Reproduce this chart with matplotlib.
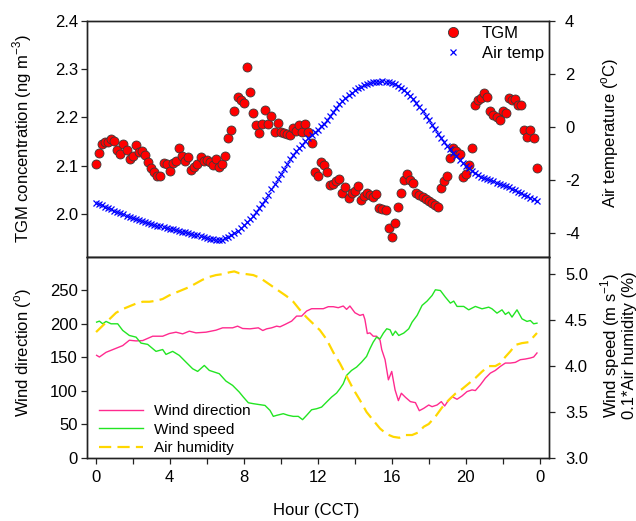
import numpy as np
import matplotlib
matplotlib.use("Agg")
import matplotlib.pyplot as plt
from matplotlib.lines import Line2D

plt.rcParams['font.family'] = ['Liberation Sans', 'DejaVu Sans']
plt.rcParams['mathtext.fontset'] = 'custom'
plt.rcParams['mathtext.rm'] = 'Liberation Sans'
plt.rcParams['axes.unicode_minus'] = False

# ---------------- data ----------------
# 10-minute steps over the day (hours)
hours = np.arange(144) / 6.0

tgm = [2.103, 2.127, 2.145, 2.149, 2.150, 2.155, 2.151, 2.132, 2.125, 2.145,
       2.132, 2.114, 2.120, 2.142, 2.128, 2.130, 2.122, 2.107, 2.096, 2.087,
       2.079, 2.078, 2.106, 2.104, 2.090, 2.105, 2.110, 2.137, 2.121, 2.109,
       2.119, 2.092, 2.098, 2.103, 2.119, 2.110, 2.112, 2.107, 2.101, 2.113,
       2.098, 2.103, 2.120, 2.158, 2.175, 2.214, 2.242, 2.235, 2.229, 2.305,
       2.253, 2.210, 2.184, 2.167, 2.186, 2.215, 2.186, 2.203, 2.170, 2.188,
       2.170, 2.167, 2.165, 2.163, 2.178, 2.172, 2.184, 2.169, 2.186, 2.170,
       2.148, 2.088, 2.079, 2.108, 2.101, 2.088, 2.060, 2.063, 2.069, 2.072,
       2.044, 2.056, 2.034, 2.043, 2.047, 2.058, 2.029, 2.037, 2.043, 2.039,
       2.036, 2.041, 2.012, 2.010, 2.008, 1.972, 1.953, 1.982, 2.014, 2.043,
       2.070, 2.082, 2.070, 2.065, 2.044, 2.039, 2.036, 2.032, 2.027, 2.023,
       2.019, 2.015, 2.055, 2.069, 2.078, 2.116, 2.136, 2.131, 2.125, 2.076,
       2.084, 2.101, 2.136, 2.226, 2.236, 2.240, 2.250, 2.242, 2.214, 2.204,
       2.200, 2.195, 2.213, 2.209, 2.240, 2.236, 2.239, 2.226, 2.225, 2.174,
       2.159, 2.173, 2.157, 2.095]

air_temp = [-2.85, -2.90, -2.95, -3.00, -3.05, -3.10,
            -3.15, -3.19, -3.24, -3.29, -3.33, -3.38,
            -3.42, -3.46, -3.50, -3.54, -3.58, -3.62,
            -3.65, -3.68, -3.71, -3.74, -3.77, -3.80,
            -3.82, -3.85, -3.88, -3.91, -3.94, -3.96,
            -3.99, -4.02, -4.05, -4.08, -4.11, -4.14,
            -4.17, -4.20, -4.23, -4.26, -4.26, -4.24,
            -4.19, -4.14, -4.08, -4.00, -3.90, -3.79,
            -3.67, -3.56, -3.45, -3.33, -3.19, -3.05,
            -2.90, -2.73, -2.54, -2.35, -2.15, -1.95,
            -1.75, -1.57, -1.39, -1.22, -1.06, -0.92,
            -0.78, -0.66, -0.54, -0.42, -0.31, -0.20,
            -0.10, 0.02, 0.13, 0.25, 0.41, 0.56,
            0.72, 0.85, 0.98, 1.10, 1.20, 1.29,
            1.38, 1.45, 1.51, 1.57, 1.61, 1.65,
            1.68, 1.70, 1.71, 1.72, 1.71, 1.69,
            1.66, 1.60, 1.54, 1.47, 1.38, 1.28,
            1.17, 1.04, 0.90, 0.75, 0.59, 0.43,
            0.27, 0.09, -0.08, -0.25, -0.40, -0.55,
            -0.70, -0.84, -0.97, -1.10, -1.23, -1.35,
            -1.46, -1.56, -1.65, -1.74, -1.81, -1.87,
            -1.93, -1.97, -2.01, -2.05, -2.09, -2.14,
            -2.18, -2.23, -2.27, -2.32, -2.38, -2.43,
            -2.49, -2.55, -2.60, -2.66, -2.72, -2.78]

wd_hours = [0.05, 0.20, 0.56, 1.01, 1.46, 1.82, 2.18, 2.54, 3.08, 3.62,
            3.98, 4.34, 4.70, 5.06, 5.42, 5.96, 6.50, 6.86, 7.40, 7.67,
            7.94, 8.34, 8.79, 9.03, 9.24, 9.51, 9.78, 9.96, 10.23, 10.59,
            10.86, 11.13, 11.40, 11.67, 11.94, 12.30, 12.57, 12.84, 13.11, 13.38,
            13.56, 13.74, 14.01, 14.28, 14.46, 14.55, 14.68, 14.82, 15.00, 15.18,
            15.37, 15.46, 15.64, 15.82, 16.00, 16.18, 16.36, 16.52, 16.74, 17.01,
            17.28, 17.49, 17.73, 18.00, 18.18, 18.45, 18.68, 18.86, 19.08, 19.26,
            19.53, 19.80, 20.07, 20.34, 20.52, 20.79, 21.06, 21.33, 21.60, 21.87,
            22.14, 22.41, 22.68, 22.95, 23.22, 23.49, 23.67, 23.85]
wind_dir = [153, 150.5, 157.5, 162.5, 167.5, 175.5, 174.5, 175, 181.5, 181.5,
            185.5, 187.5, 185, 189, 186.5, 187.5, 190.5, 194, 194, 196.5,
            193, 192.5, 194, 190, 192.5, 194, 196.5, 195.5, 199, 204,
            211.5, 211.5, 219, 222.5, 222.5, 222.5, 225.5, 225.5, 224, 226.5,
            221.5, 226.5, 216.5, 212.5, 214, 206.5, 185.5, 186.5, 181.5, 181.5,
            175.5, 161.5, 146.5, 116.5, 129, 101.5, 85.5, 96.5, 90.5, 84,
            82.5, 70.5, 74, 79, 76.5, 79, 84, 77.5, 86.5, 91.5,
            87.5, 92.5, 99, 101.5, 100.5, 109, 119, 126.5, 130.5, 136.5,
            141.5, 141.5, 142.5, 146.5, 147.5, 149, 150.5, 156.5]

ws_hours = [0.05, 0.20, 0.38, 0.56, 0.83, 1.19, 1.46, 1.82, 2.18, 2.45,
            2.81, 3.26, 3.62, 3.80, 4.16, 4.52, 4.88, 5.24, 5.51, 5.87,
            6.14, 6.68, 7.04, 7.40, 7.76, 7.98, 8.25, 8.52, 8.88, 9.15,
            9.42, 9.60, 9.78, 10.14, 10.41, 10.68, 10.95, 11.18, 11.40, 11.67,
            11.94, 12.21, 12.48, 12.75, 13.02, 13.20, 13.38, 13.56, 13.83, 14.10,
            14.37, 14.64, 14.82, 15.00, 15.18, 15.37, 15.55, 15.73, 15.91, 16.05,
            16.20, 16.38, 16.65, 16.92, 17.10, 17.37, 17.64, 17.91, 18.18, 18.36,
            18.63, 18.90, 19.17, 19.35, 19.53, 19.89, 20.16, 20.52, 20.88, 21.24,
            21.42, 21.69, 21.96, 22.14, 22.32, 22.50, 22.77, 23.04, 23.31, 23.49,
            23.67, 23.85]
wind_speed = [4.478, 4.489, 4.46, 4.486, 4.46, 4.46, 4.388, 4.333, 4.315, 4.25,
              4.236, 4.16, 4.18, 4.127, 4.16, 4.116, 4.043, 3.971, 3.942, 4.007,
              3.953, 3.917, 3.837, 3.79, 3.717, 3.663, 3.601, 3.591, 3.58, 3.572,
              3.518, 3.453, 3.464, 3.482, 3.464, 3.453, 3.453, 3.417, 3.464, 3.525,
              3.536, 3.554, 3.609, 3.663, 3.707, 3.754, 3.808, 3.899, 3.953, 3.989,
              4.043, 4.105, 4.188, 4.261, 4.315, 4.297, 4.359, 4.406, 4.395, 4.333,
              4.38, 4.333, 4.359, 4.406, 4.478, 4.551, 4.66, 4.707, 4.768, 4.83,
              4.822, 4.75, 4.685, 4.707, 4.649, 4.649, 4.612, 4.649, 4.623, 4.641,
              4.623, 4.576, 4.612, 4.562, 4.587, 4.533, 4.612, 4.514, 4.486, 4.496,
              4.46, 4.467]

rh_hours = [0.02, 0.38, 0.74, 1.10, 1.46, 1.82, 2.18, 2.54, 2.90, 3.26,
            3.62, 3.98, 4.34, 4.70, 5.06, 5.42, 5.78, 6.14, 6.50, 6.86,
            7.22, 7.49, 7.76, 8.16, 8.52, 8.88, 9.24, 9.60, 9.96, 10.32,
            10.68, 11.04, 11.40, 11.76, 12.12, 12.48, 12.84, 13.20, 13.56, 13.92,
            14.28, 14.64, 15.00, 15.37, 15.73, 16.09, 16.41, 16.74, 17.10, 17.46,
            17.73, 18.00, 18.36, 18.72, 19.08, 19.44, 19.80, 20.16, 20.52, 20.88,
            21.24, 21.60, 21.87, 22.14, 22.41, 22.68, 23.04, 23.40, 23.67, 23.85]
air_humidity = [43.7, 44.4, 45.1, 45.8, 46.2, 46.5, 46.8, 47.0, 47.0, 47.1,
                47.3, 47.7, 48.0, 48.3, 48.6, 49.0, 49.4, 49.7, 49.9, 50.0,
                50.2, 50.3, 50.1, 50.0, 49.9, 49.6, 49.1, 48.6, 48.1, 47.6,
                47.0, 46.1, 45.3, 44.6, 43.9, 42.9, 41.5, 40.3, 38.9, 37.5,
                36.3, 35.0, 34.1, 33.2, 32.6, 32.3, 32.2, 32.5, 32.5, 32.8,
                33.4, 33.7, 34.5, 35.5, 36.3, 37.0, 37.5, 38.1, 38.7, 39.4,
                40.0, 40.0, 40.3, 41.0, 41.6, 42.3, 42.5, 42.6, 43.2, 43.6]

x_tick_pos = [0, 4, 8, 12, 16, 20, 24]
x_tick_labels = ['0', '4', '8', '12', '16', '20', '0']

# ---------------- figure ----------------
W, H = 636, 521
fig = plt.figure(figsize=(W / 100, H / 100), dpi=100)

L, R = 87, 549
top_t, top_b = 20.7, 256.7
bot_b = 458

def rect(x0, x1, y0, y1):
    return [x0 / W, 1 - y1 / H, (x1 - x0) / W, (y1 - y0) / H]

ax1 = fig.add_axes(rect(L, R, top_t, top_b))
ax3 = fig.add_axes(rect(L, R, top_b, bot_b))

TICK_FS = 12
LABEL_FS = 12
spine_col = '#222222'
xlim = (-0.47, 24.5)

# ---- top panel ----
ax1.scatter(hours, tgm, s=42, c='#FF0000', edgecolors='#3a3a3a',
            linewidths=0.6, zorder=3, label='TGM')
ax1.set_xlim(*xlim)
ax1.set_ylim(1.912, 2.4)
ax1.set_yticks([2.0, 2.1, 2.2, 2.3, 2.4])
ax1.yaxis.set_major_formatter(matplotlib.ticker.FormatStrFormatter('%.1f'))
ax1.set_xticks([])
ax1.set_ylabel('TGM concentration (ng m$^{\\mathregular{-3}}$)', fontsize=LABEL_FS)
ax1.yaxis.set_label_coords(-0.115, 0.5)

ax2 = ax1.twinx()
ax2.plot(hours, air_temp, linestyle='none', marker='x', markersize=4.2,
         markeredgewidth=0.9, color='#0000FF', label='Air temp')
ax2.set_ylim(-4.88, 4)
ax2.set_yticks([-4, -2, 0, 2, 4])
ax2.set_xlim(*xlim)
ax2.set_ylabel('Air temperature ($^{\\mathregular{o}}$C)', fontsize=LABEL_FS)
ax2.yaxis.set_label_coords(1.108, 0.525)

h_tgm = Line2D([], [], linestyle='none', marker='o', markersize=7.3,
               markerfacecolor='#FF0000', markeredgecolor='#3a3a3a',
               markeredgewidth=0.6)
h_tmp = Line2D([], [], linestyle='none', marker='x', markersize=4.2,
               markeredgewidth=0.9, color='#0000FF')
fig.legend([h_tgm, h_tmp], ['TGM', 'Air temp'], loc='upper left',
           bbox_to_anchor=(436 / W, 1 - 26 / H), bbox_transform=fig.transFigure,
           frameon=False, fontsize=12, borderpad=0, borderaxespad=0,
           handlelength=2.0, handletextpad=0.75, labelspacing=0.3)

# ---- bottom panel ----
l_wd, = ax3.plot(wd_hours, wind_dir, color='#FF2A8F', lw=1.0)
ax3.set_xlim(*xlim)
ax3.set_ylim(0, 300)
ax3.set_yticks([0, 50, 100, 150, 200, 250])
ax3.set_xticks(x_tick_pos)
ax3.set_xticklabels(x_tick_labels)
ax3.set_xticks([2, 6, 10, 14, 18, 22], minor=True)
ax3.set_ylabel('Wind direction ($^{\\mathregular{o}}$)', fontsize=LABEL_FS)
ax3.yaxis.set_label_coords(-0.115, 0.525)
ax3.set_xlabel('Hour (CCT)', fontsize=LABEL_FS)
ax3.xaxis.set_label_coords(0.497, -0.225)

ax4 = ax3.twinx()
l_ws, = ax4.plot(ws_hours, wind_speed, color='#22E522', lw=1.0)
l_rh, = ax4.plot(rh_hours, [0.1 * v for v in air_humidity], color='#FFD700',
                 lw=1.6, dashes=(5.5, 2.8))
ax4.set_ylim(3.0, 5.19)
ax4.set_yticks([3.0, 3.5, 4.0, 4.5, 5.0])
ax4.yaxis.set_major_formatter(matplotlib.ticker.FormatStrFormatter('%.1f'))
ax4.set_xlim(*xlim)
ax4.set_ylabel('Wind speed (m s$^{\\mathregular{-1}}$)\n0.1*Air humidity (%)',
               fontsize=LABEL_FS, linespacing=1.0)
ax4.yaxis.set_label_coords(1.108, 0.56)

ax3.legend([l_wd, l_ws, l_rh], ['Wind direction', 'Wind speed', 'Air humidity'],
           loc='lower left', bbox_to_anchor=(99 / W, 1 - 455 / H),
           bbox_transform=fig.transFigure, frameon=False, fontsize=11,
           borderpad=0, borderaxespad=0, handlelength=2.9,
           handletextpad=0.7, labelspacing=0.28)

# ---- common styling ----
for ax in (ax1, ax2, ax3, ax4):
    for sp in ax.spines.values():
        sp.set_color(spine_col)
        sp.set_linewidth(1.0)
    ax.tick_params(axis='both', which='both', direction='out', length=4.5,
                   width=0.9, color=spine_col, labelsize=TICK_FS)
ax1.tick_params(axis='y', pad=2)
ax3.tick_params(axis='y', pad=2)
ax2.tick_params(axis='y', pad=7)
ax4.tick_params(axis='y', pad=7)
ax3.tick_params(axis='x', pad=4)

fig.savefig('out.png', dpi=100)
